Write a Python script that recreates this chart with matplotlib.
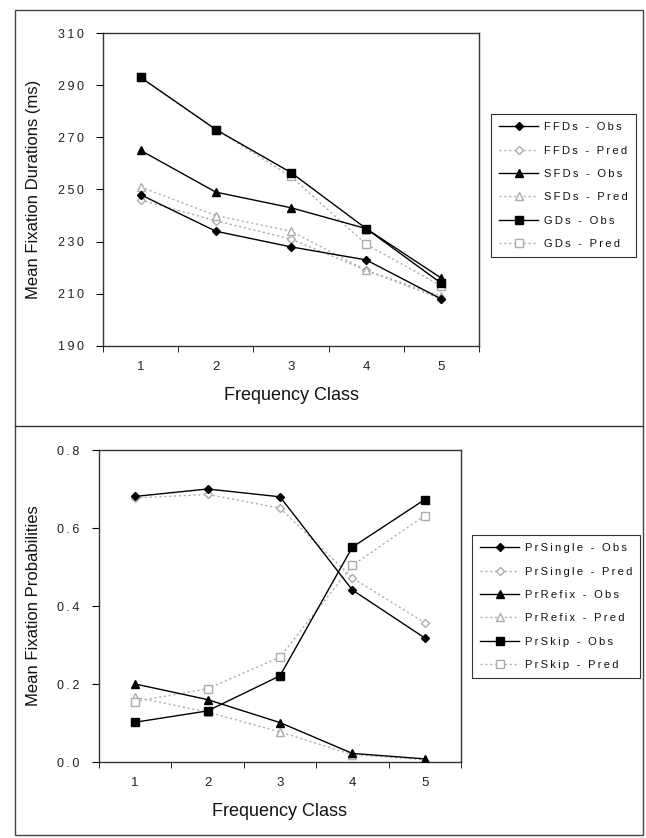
import matplotlib.pyplot as plt
from matplotlib.lines import Line2D
from matplotlib.patches import Rectangle

plt.rcParams['font.family'] = ['Liberation Sans', 'DejaVu Sans']

freq = [1, 2, 3, 4, 5]

# durations (ms)
ffd_obs = [248, 234, 228, 223, 208]
ffd_pred = [246, 238, 231, 219, 208]
sfd_obs = [265, 249, 243, 235, 216]
sfd_pred = [251, 240, 234, 219, 209]
gd_obs = [293, 273, 256.5, 235, 214]
gd_pred = [293, 273, 255, 229, 213]
dur_ticks = [190, 210, 230, 250, 270, 290, 310]

# probabilities
single_obs = [0.681, 0.700, 0.680, 0.441, 0.318]
single_pred = [0.677, 0.686, 0.651, 0.472, 0.357]
refix_obs = [0.200, 0.160, 0.101, 0.022, 0.008]
refix_pred = [0.166, 0.128, 0.077, 0.019, 0.006]
skip_obs = [0.102, 0.131, 0.221, 0.551, 0.673]
skip_pred = [0.155, 0.188, 0.269, 0.504, 0.632]
prob_ticks = [0.0, 0.2, 0.4, 0.6, 0.8]

W, H = 646, 838
fig = plt.figure(figsize=(W / 100, H / 100), dpi=100)

grey = '#acacac'


def spaced(s):
    # the old chart font is letter-spaced
    return '\u2009'.join(s)


def obs(ax, x, y, m, label, ms):
    ax.plot(x, y, color='black', lw=1, marker=m, ms=ms, mfc='black', mec='black',
            label=spaced(label), zorder=3)


def pred(ax, x, y, m, label, ms):
    ax.plot(x, y, color=grey, lw=1, ls=(0, (1.5, 2)), marker=m, ms=ms, mfc='white', mec=grey,
            label=spaced(label), zorder=2)


def style(ax, ticks, fmt):
    for s in ax.spines.values():
        s.set_color('#333333')
        s.set_linewidth(1)
    ax.set_xlim(0.5, 5.5)
    ax.set_xticks(freq)
    ax.set_xticklabels([spaced(str(f)) for f in freq])
    ax.set_xticks([0.5, 1.5, 2.5, 3.5, 4.5, 5.5], minor=True)
    ax.tick_params(axis='x', which='major', length=0, pad=11, labelsize=9.5, labelcolor='#222222')
    ax.tick_params(axis='x', which='minor', length=4, direction='out')
    ax.set_yticks(ticks)
    ax.set_yticklabels([spaced(fmt.format(t)) for t in ticks])
    ax.tick_params(axis='y', length=5, direction='out', pad=9, labelsize=9, labelcolor='#222222')
    ax.set_xlabel('Frequency Class', fontsize=13, labelpad=10, color='#111111')


ax1 = fig.add_axes([103 / W, 1 - 346 / H, 376 / W, 313 / H])
obs(ax1, freq, ffd_obs, 'D', 'FFDs - Obs', 4.5)
pred(ax1, freq, ffd_pred, 'D', 'FFDs - Pred', 4.5)
obs(ax1, freq, sfd_obs, '^', 'SFDs - Obs', 6)
pred(ax1, freq, sfd_pred, '^', 'SFDs - Pred', 6)
obs(ax1, freq, gd_obs, 's', 'GDs - Obs', 5.5)
pred(ax1, freq, gd_pred, 's', 'GDs - Pred', 5.5)
ax1.set_ylim(190, 310)
style(ax1, dur_ticks, '{:.0f}')
ax1.set_ylabel('Mean Fixation Durations (ms)', fontsize=12, labelpad=12, color='#111111')

ax2 = fig.add_axes([99 / W, 1 - 762 / H, 362 / W, 312 / H])
obs(ax2, freq, single_obs, 'D', 'PrSingle - Obs', 4.5)
pred(ax2, freq, single_pred, 'D', 'PrSingle - Pred', 4.5)
obs(ax2, freq, refix_obs, '^', 'PrRefix - Obs', 6)
pred(ax2, freq, refix_pred, '^', 'PrRefix - Pred', 6)
obs(ax2, freq, skip_obs, 's', 'PrSkip - Obs', 6)
pred(ax2, freq, skip_pred, 's', 'PrSkip - Pred', 6)
ax2.set_ylim(0, 0.8)
style(ax2, prob_ticks, '{:.1f}')
ax2.set_ylabel('Mean Fixation Probabilities', fontsize=12, labelpad=12, color='#111111')

for ax, (lx, ly) in [(ax1, (491, 114)), (ax2, (472, 535))]:
    leg = ax.legend(loc='upper left', bbox_to_anchor=(lx / W, 1 - ly / H),
                    bbox_transform=fig.transFigure, borderaxespad=0, fontsize=8,
                    handlelength=3.5, handletextpad=0.5, labelspacing=1.2,
                    fancybox=False, frameon=True, borderpad=0.75)
    leg.get_frame().set_edgecolor('black')
    leg.get_frame().set_linewidth(0.8)
    for t in leg.get_texts():
        t.set_color('#111111')

# outer border and divider
fig.add_artist(Rectangle((15 / W, 1 - 835 / H), 628 / W, 825 / H, transform=fig.transFigure,
                         fill=False, edgecolor='#444444', lw=1))
fig.add_artist(Line2D([15 / W, 643 / W], [1 - 426 / H, 1 - 426 / H], transform=fig.transFigure,
                      color='#333333', lw=1))

fig.savefig('out.png', dpi=100)
